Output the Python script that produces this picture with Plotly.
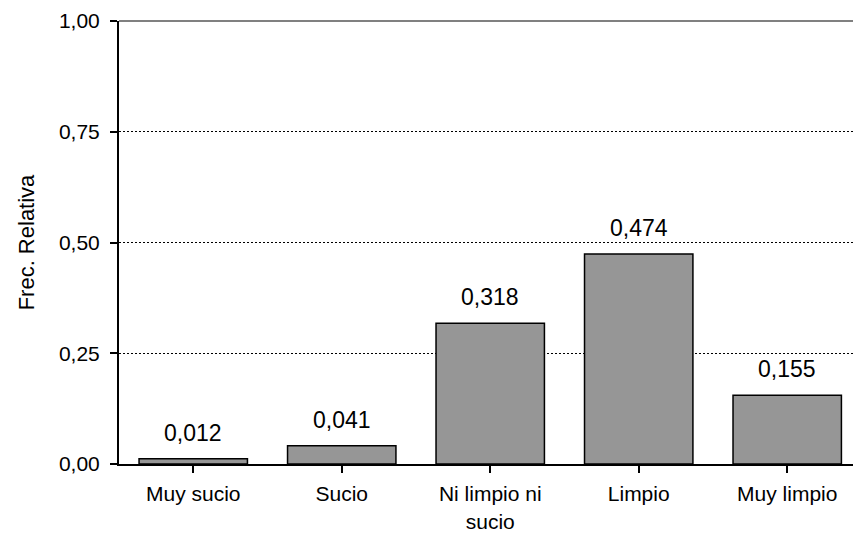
import plotly.graph_objects as go

categorias = ['Muy sucio', 'Sucio', 'Ni limpio ni<br>sucio', 'Limpio', 'Muy limpio']
frec_relativa = [0.012, 0.041, 0.318, 0.474, 0.155]
ticks_y = [0, 0.25, 0.5, 0.75, 1.0]

fuente = 'Liberation Sans, Arial, sans-serif'

fig = go.Figure()
fig.add_trace(go.Bar(x = list(range(len(categorias))), y = frec_relativa, width = 0.73,
                     marker = dict(color = '#969696', line = dict(color = 'black', width = 1.5)),
                     hoverinfo = 'skip'))

# etiquetas de valor sobre cada barra
for i, v in enumerate(frec_relativa):
    fig.add_annotation(x = i, y = v, text = f'{v:.3f}'.replace('.', ','), showarrow = False,
                       yanchor = 'bottom', yshift = 11, font = dict(size = 23, color = 'black', family = fuente))

fig.update_layout(width = 853, height = 534, separators = ',.',
                  margin = dict(l = 119, r = 0, t = 21, b = 70),
                  plot_bgcolor = 'white', paper_bgcolor = 'white', showlegend = False,
                  font = dict(family = fuente, color = 'black'))

fig.update_xaxes(range = [-0.5, 4.443], tickmode = 'array', tickvals = list(range(len(categorias))),
                 ticktext = categorias, tickson = 'boundaries', ticks = 'outside', ticklen = 7,
                 tickwidth = 1.5, tickcolor = 'black', showline = True, linecolor = 'black', linewidth = 2,
                 showgrid = False, tickfont = dict(size = 21), ticklabelstandoff = 3)

fig.update_yaxes(range = [0, 1], tickmode = 'array', tickvals = ticks_y, tickformat = '.2f',
                 ticks = 'outside', ticklen = 7, tickwidth = 1.5, tickcolor = 'black',
                 showline = True, linecolor = 'black', linewidth = 2, zeroline = False,
                 showgrid = True, gridcolor = 'black', gridwidth = 1, griddash = '2px,2px',
                 tickfont = dict(size = 21), ticklabelstandoff = 6,
                 title = dict(text = 'Frec. Relativa', font = dict(size = 22), standoff = 18))

# borde superior gris del área de trazado
fig.add_shape(type = 'line', xref = 'paper', yref = 'paper', x0 = 0, x1 = 1, y0 = 1, y1 = 1,
              line = dict(color = '#808080', width = 2), layer = 'above')

# sin margen del body para que el gráfico quede en (0,0)
fig.write_html("out.html", config = {'displayModeBar': False},
               post_script = "document.body.style.margin='0';")
